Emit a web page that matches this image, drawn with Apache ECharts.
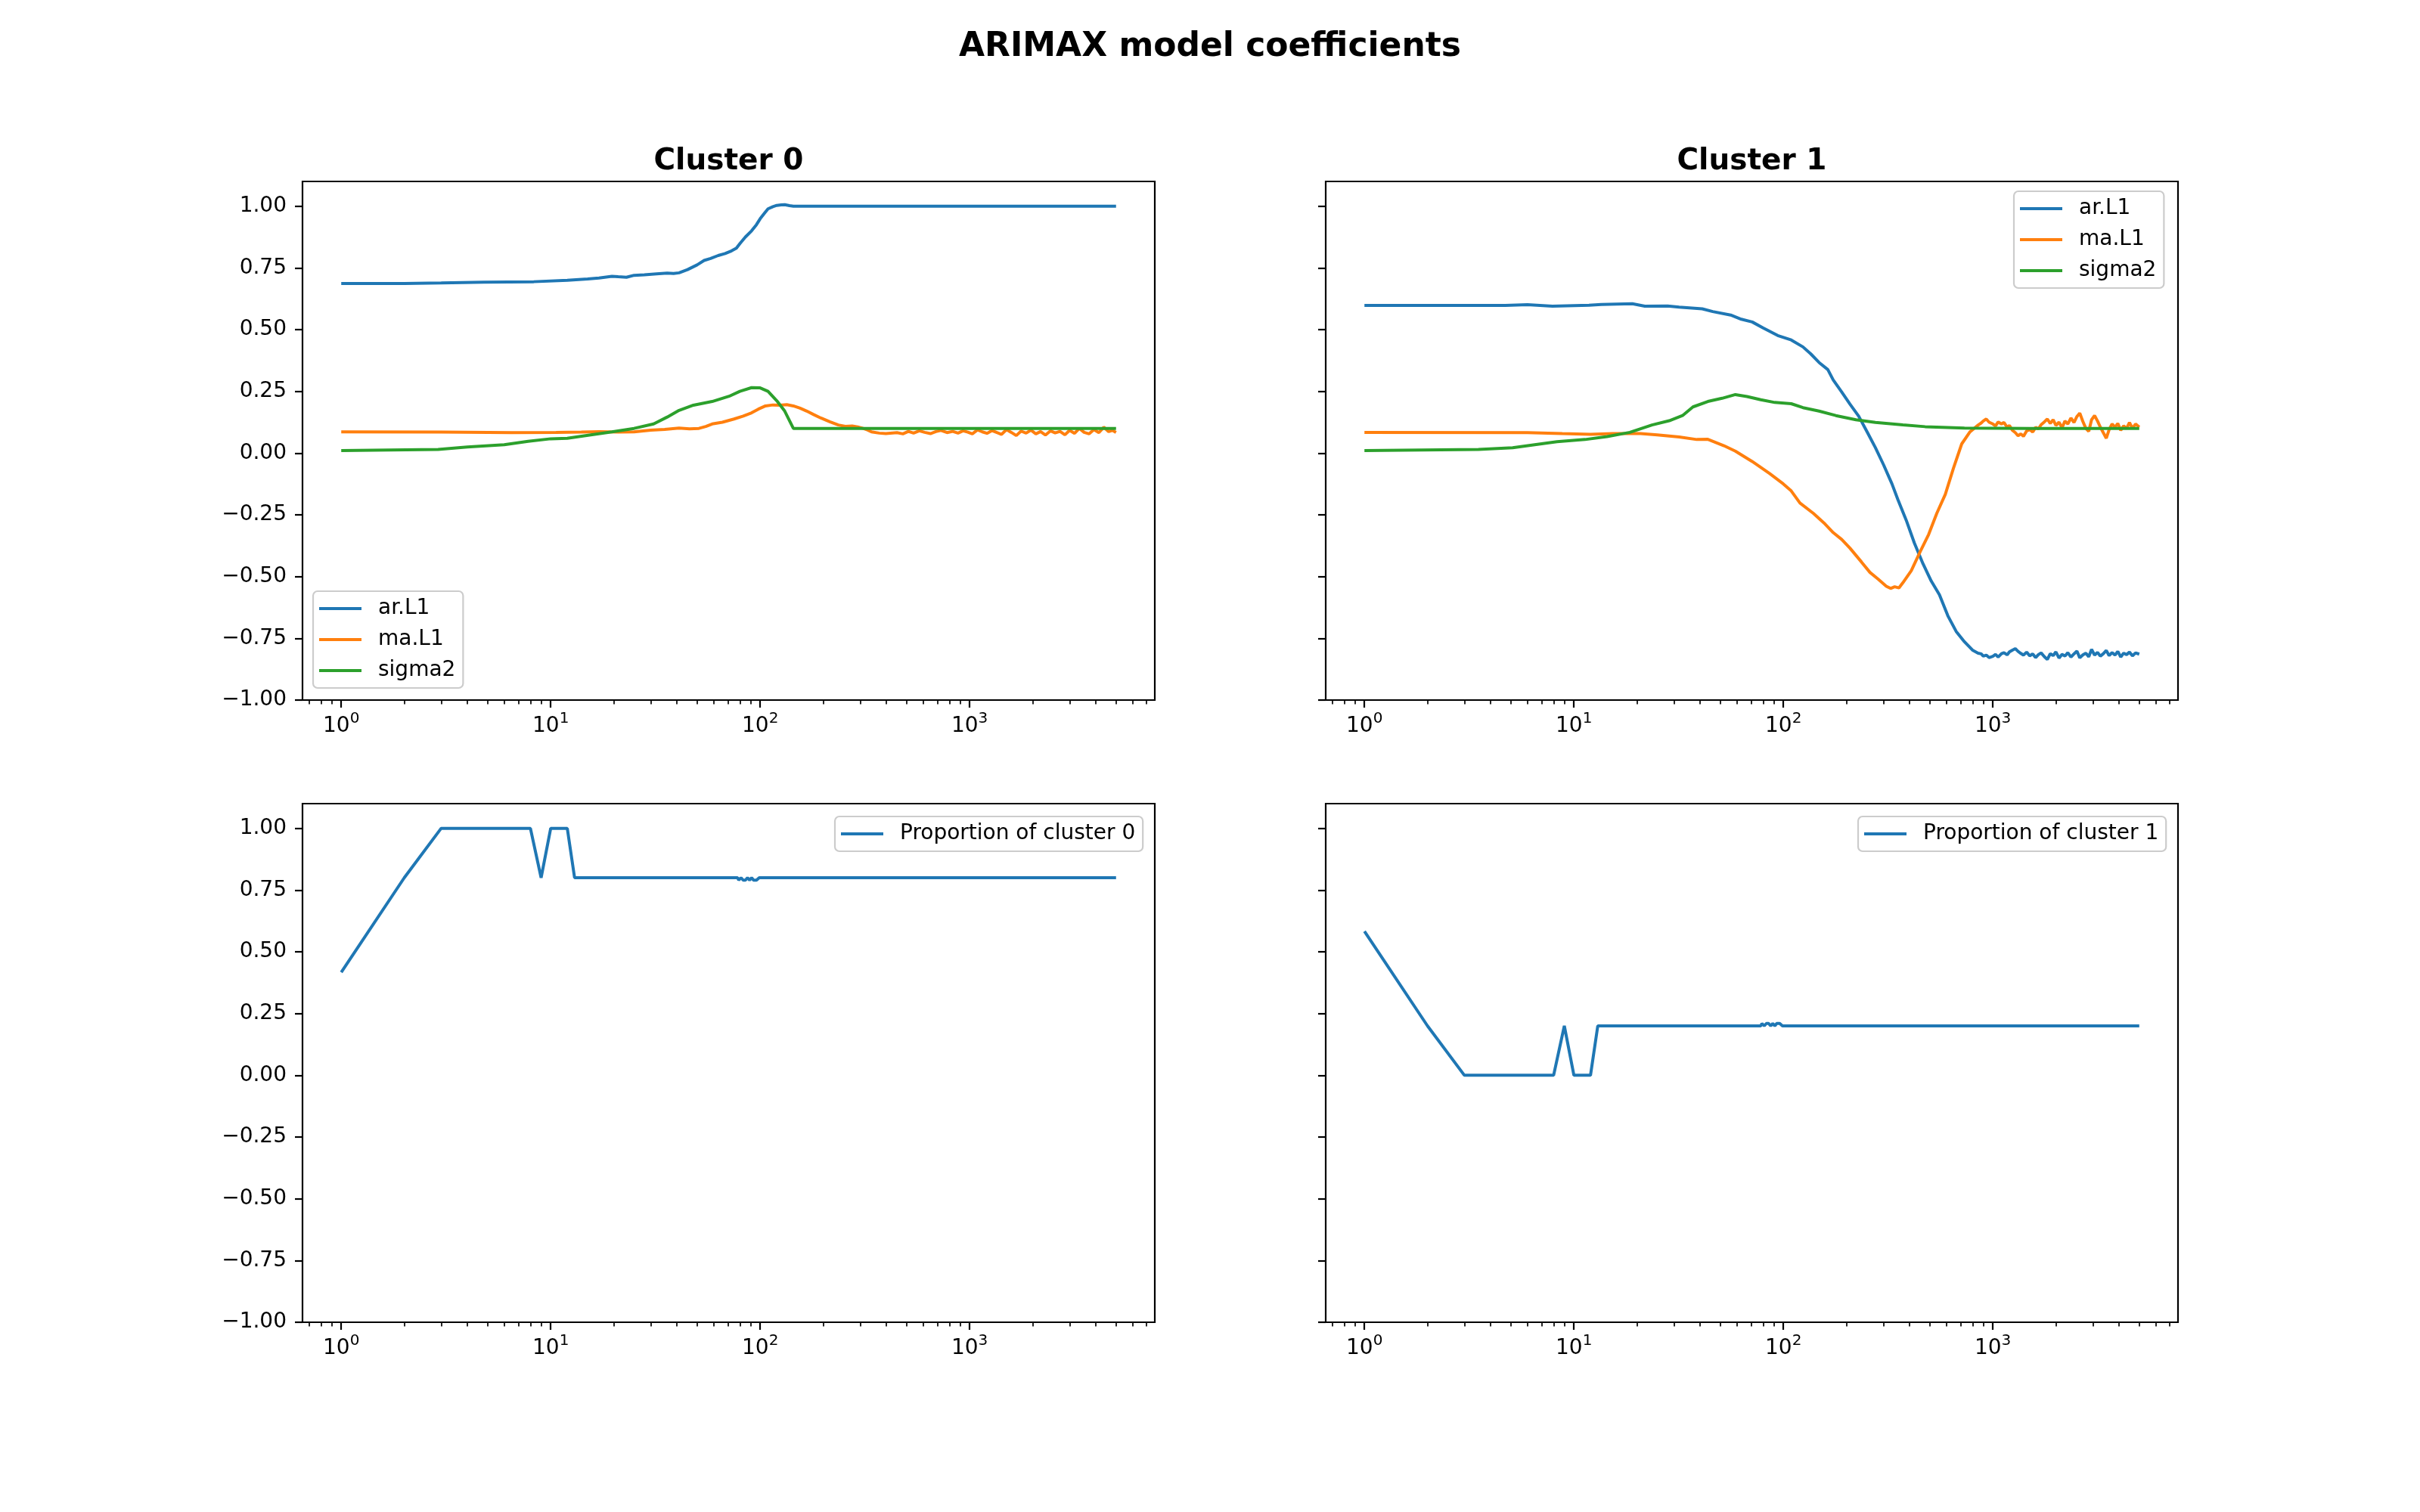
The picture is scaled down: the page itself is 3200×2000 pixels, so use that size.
<!DOCTYPE html>
<html>
<head>
<meta charset="utf-8">
<script src="https://cdn.jsdelivr.net/npm/echarts@6/dist/echarts.min.js"></script>
<style>html,body{margin:0;padding:0;background:#fff;}#chart{width:3200px;height:2000px;}</style>
</head>
<body>
<div id="chart"></div>
<script>
// ---------- data ----------
const SUPTITLE = 'ARIMAX model coefficients';
const PANEL_TITLES = ['Cluster 0', 'Cluster 1'];
const COEF_NAMES = ['ar.L1', 'ma.L1', 'sigma2'];
const PROP_NAMES = ['Proportion of cluster 0', 'Proportion of cluster 1'];
const X_MAJOR = [1, 10, 100, 1000];
const X_MINOR = [0.7, 0.8, 0.9, 2, 3, 4, 5, 6, 7, 8, 9, 20, 30, 40, 50, 60, 70, 80, 90,
  200, 300, 400, 500, 600, 700, 800, 900, 2000, 3000, 4000, 5000, 6000, 7000];
const Y_TICKS = [-1, -0.75, -0.5, -0.25, 0, 0.25, 0.5, 0.75, 1];

// Cluster 0
const c0ArX = [1, 2, 3, 4.8, 8.3, 12, 15, 17, 19.6, 21, 23, 25, 28, 32, 36, 38.6, 41, 45, 50, 54, 58, 63, 68, 73, 77, 80, 85, 91, 96, 100, 105, 109, 115, 120, 126, 131, 138, 144, 200, 500, 1000, 2000, 5000];
const c0ArY = [0.687, 0.687, 0.689, 0.692, 0.694, 0.70, 0.705, 0.709, 0.716, 0.714, 0.712, 0.72, 0.722, 0.726, 0.729, 0.727, 0.73, 0.743, 0.762, 0.78, 0.788, 0.80, 0.808, 0.819, 0.83, 0.848, 0.875, 0.90, 0.925, 0.949, 0.972, 0.989, 0.998, 1.003, 1.005, 1.006, 1.002, 1.0, 1.0, 1.0, 1.0, 1.0, 1.0];

const c0MaX = [1, 3, 6.5, 10.6, 14, 17, 21, 25, 30, 35, 41, 46, 51, 55, 59, 66, 75, 83, 91, 98, 106, 115, 124, 134, 144, 155, 167, 180, 195, 215, 236, 255, 275, 292, 310, 325, 340, 370, 398,
  450, 480, 510, 540, 575, 610, 650, 690, 730, 780, 830, 880, 930, 980, 1030, 1090, 1150, 1210, 1280, 1350, 1420, 1500, 1580, 1670, 1760, 1860, 1960, 2070, 2180, 2300, 2430, 2560, 2700, 2850, 3000, 3170, 3340, 3520, 3720, 3920, 4140, 4370, 4610, 4800, 5000];
const c0MaY = [0.086, 0.085, 0.083, 0.084, 0.085, 0.087, 0.085, 0.086, 0.093, 0.096, 0.101, 0.098, 0.10, 0.108, 0.118, 0.125, 0.138, 0.15, 0.163, 0.178, 0.191, 0.195, 0.194, 0.196, 0.191, 0.182, 0.17, 0.156, 0.142, 0.127, 0.114, 0.108, 0.11, 0.106, 0.10, 0.094, 0.086, 0.081, 0.079,
  0.083, 0.078, 0.088, 0.081, 0.09, 0.084, 0.079, 0.087, 0.092, 0.083, 0.088, 0.081, 0.09, 0.085, 0.078, 0.094, 0.086, 0.08, 0.091, 0.083, 0.076, 0.095, 0.084, 0.071, 0.089, 0.081, 0.093, 0.078, 0.087, 0.073, 0.09, 0.082, 0.088, 0.074, 0.092, 0.08, 0.1, 0.084, 0.078, 0.095, 0.083, 0.105, 0.087, 0.092, 0.084];

const c0SigX = [1, 2.9, 4, 6, 7.8, 10, 12, 15.3, 19.6, 25, 31, 36, 41, 48, 59, 71, 80, 91, 100, 109, 120, 131, 144, 300, 1000, 5000];
const c0SigY = [0.01, 0.015, 0.025, 0.034, 0.048, 0.058, 0.06, 0.073, 0.086, 0.10, 0.118, 0.146, 0.173, 0.194, 0.209, 0.23, 0.25, 0.265, 0.264, 0.25, 0.212, 0.17, 0.10, 0.10, 0.10, 0.10];

// Cluster 1
const c1ArX = [1, 4.7, 6, 7.9, 11.8, 13.5, 19, 21.8, 28, 31.8, 41, 46, 56, 63, 71, 80, 94, 109, 124, 135, 148, 163, 173, 190, 208, 229, 251, 275, 301, 330, 352, 386, 422, 464, 508, 556, 610, 668, 732, 803, 850,
  880, 900, 930, 960, 1000, 1030, 1060, 1100, 1130, 1170, 1200, 1240, 1280, 1320, 1360, 1400, 1450, 1500, 1550, 1600, 1650, 1700, 1760, 1820, 1880, 1940, 2000, 2070, 2140, 2210, 2280, 2360, 2440, 2520, 2600, 2690, 2780, 2870, 2960, 3060, 3160, 3260, 3370, 3480, 3590, 3710, 3830, 3950, 4080, 4210, 4350, 4490, 4640, 4800, 5000];
const c1ArY = [0.598, 0.598, 0.601, 0.595, 0.599, 0.602, 0.605, 0.595, 0.596, 0.591, 0.584, 0.573, 0.559, 0.542, 0.531, 0.507, 0.476, 0.458, 0.43, 0.402, 0.367, 0.338, 0.296, 0.247, 0.198, 0.149, 0.086, 0.022, -0.048, -0.125, -0.188, -0.272, -0.364, -0.448, -0.518, -0.574, -0.659, -0.722, -0.764, -0.799, -0.81,
  -0.813, -0.822, -0.818, -0.828, -0.823, -0.815, -0.826, -0.812, -0.808, -0.817, -0.805, -0.798, -0.792, -0.803, -0.811, -0.818, -0.806, -0.821, -0.813, -0.828, -0.816, -0.809, -0.824, -0.836, -0.812, -0.82, -0.805, -0.83, -0.815, -0.822, -0.808, -0.826, -0.813, -0.802, -0.829, -0.817, -0.81, -0.825, -0.795, -0.818, -0.807, -0.822, -0.812, -0.799, -0.82, -0.808, -0.818, -0.803, -0.826, -0.81, -0.816, -0.806, -0.821, -0.809, -0.814];

const c1MaX = [1, 6, 8.8, 12, 15.3, 20.8, 25, 31.8, 38.6, 43.6, 52, 59, 71, 86, 100, 109, 120, 139, 158, 173, 190, 208, 236, 259, 284, 310, 325, 340, 356, 372, 408, 450, 494, 540, 593, 648, 710, 778, 852,
  880, 900, 930, 960, 1000, 1030, 1060, 1100, 1130, 1170, 1200, 1240, 1280, 1320, 1360, 1400, 1450, 1500, 1550, 1600, 1650, 1700, 1760, 1820, 1880, 1940, 2000, 2070, 2140, 2210, 2280, 2360, 2440, 2520, 2600, 2690, 2780, 2870, 2960, 3060, 3160, 3260, 3370, 3480, 3590, 3710, 3830, 3950, 4080, 4210, 4350, 4490, 4640, 4800, 5000];
const c1MaY = [0.084, 0.083, 0.079, 0.076, 0.079, 0.079, 0.074, 0.065, 0.055, 0.056, 0.03, 0.008, -0.034, -0.083, -0.125, -0.153, -0.202, -0.244, -0.287, -0.322, -0.35, -0.385, -0.441, -0.483, -0.511, -0.539, -0.548, -0.541, -0.546, -0.525, -0.476, -0.399, -0.329, -0.244, -0.167, -0.062, 0.037, 0.086, 0.114,
  0.122, 0.13, 0.138, 0.125, 0.118, 0.11, 0.126, 0.118, 0.124, 0.105, 0.112, 0.092, 0.083, 0.07, 0.078, 0.068, 0.09, 0.095, 0.085, 0.104, 0.098, 0.115, 0.126, 0.138, 0.12, 0.135, 0.112, 0.125, 0.103, 0.13, 0.118, 0.142, 0.124, 0.148, 0.162, 0.128, 0.1, 0.088, 0.135, 0.152, 0.13, 0.105, 0.082, 0.06, 0.095, 0.118, 0.105, 0.12, 0.092, 0.11, 0.1, 0.124, 0.1, 0.118, 0.105];

const c1SigX = [1, 3.5, 5.1, 6.5, 8.3, 11.3, 14.4, 18.5, 23.6, 28.5, 33, 37, 43.6, 51, 59, 67, 78, 91, 109, 124, 148, 178, 222, 275, 372, 475, 732, 1500, 5000];
const c1SigY = [0.01, 0.015, 0.022, 0.034, 0.046, 0.055, 0.067, 0.084, 0.114, 0.131, 0.152, 0.187, 0.209, 0.222, 0.237, 0.229, 0.216, 0.205, 0.2, 0.184, 0.17, 0.152, 0.135, 0.124, 0.114, 0.107, 0.101, 0.1, 0.1];

// Proportions
const propX = [1, 2, 3, 8, 9, 10, 12, 13, 78, 79, 81, 83, 85, 87, 89, 91, 93, 96, 99, 101, 5000];
const prop0Y = [0.4167, 0.8, 1, 1, 0.8, 1, 1, 0.8, 0.8, 0.79, 0.8, 0.79, 0.79, 0.8, 0.79, 0.8, 0.79, 0.79, 0.8, 0.8, 0.8];
const prop1Y = [0.5833, 0.2, 0, 0, 0.2, 0, 0, 0.2, 0.2, 0.21, 0.2, 0.21, 0.21, 0.2, 0.21, 0.2, 0.21, 0.21, 0.2, 0.2, 0.2];

// ---------- chart ----------
const COLORS = ['#1f77b4', '#ff7f0e', '#2ca02c'];
const FONT = 'DejaVu Sans';
const zip = (xs, ys) => xs.map((x, i) => [x, ys[i]]);

const GRIDS = [
  {left: 400, top: 240, width: 1127, height: 686},
  {left: 1753, top: 240, width: 1127, height: 686},
  {left: 400, top: 1063, width: 1127, height: 686},
  {left: 1753, top: 1063, width: 1127, height: 686}
];
const XMIN = Math.pow(10, -0.18495), XMAX = Math.pow(10, 3.88392);

const grid = GRIDS.map(g => Object.assign({show: true, borderColor: '#000', borderWidth: 2.2, backgroundColor: 'transparent'}, g));

const xAxis = [];
for (let i = 0; i < 4; i++) {
  xAxis.push({
    type: 'log', logBase: 10, gridIndex: i, min: XMIN, max: XMAX, position: 'bottom',
    axisLine: {show: false, onZero: false}, splitLine: {show: false},
    axisTick: {show: true, length: 10, lineStyle: {color: '#000', width: 2.2}, customValues: X_MAJOR},
    axisLabel: {
      show: true, margin: 15, customValues: X_MAJOR,
      formatter: v => '{a|10}{b|' + Math.round(Math.log10(v)) + '}',
      rich: {
        a: {fontSize: 28, fontFamily: FONT, color: '#000', lineHeight: 34, verticalAlign: 'bottom'},
        b: {fontSize: 20, fontFamily: FONT, color: '#000', lineHeight: 20, verticalAlign: 'top'}
      }
    }
  });
}
for (let i = 0; i < 4; i++) {
  xAxis.push({
    type: 'log', logBase: 10, gridIndex: i, min: XMIN, max: XMAX, position: 'bottom',
    axisLine: {show: false, onZero: false}, splitLine: {show: false}, axisLabel: {show: false},
    axisTick: {show: true, length: 5.6, lineStyle: {color: '#000', width: 1.7}, customValues: X_MINOR}
  });
}
const yAxis = [];
for (let i = 0; i < 4; i++) {
  yAxis.push({
    type: 'value', gridIndex: i, min: -1, max: 1.1, position: 'left',
    axisLine: {show: false, onZero: false}, splitLine: {show: false},
    axisTick: {show: true, length: 10, lineStyle: {color: '#000', width: 2.2}, customValues: Y_TICKS},
    axisLabel: {
      show: i % 2 === 0, margin: 21, customValues: Y_TICKS,
      fontSize: 28, fontFamily: FONT, color: '#000',
      formatter: v => (v < 0 ? '\u2212' : '') + Math.abs(v).toFixed(2)
    }
  });
}

const lineSeries = (name, idx, data, color) => ({
  name, type: 'line', xAxisIndex: idx, yAxisIndex: idx, data,
  showSymbol: false, symbol: 'none', color, lineStyle: {width: 4, color},
  emphasis: {disabled: true}, z: 3
});

const series = [
  lineSeries('ar.L1', 0, zip(c0ArX, c0ArY), COLORS[0]),
  lineSeries('ma.L1', 0, zip(c0MaX, c0MaY), COLORS[1]),
  lineSeries('sigma2', 0, zip(c0SigX, c0SigY), COLORS[2]),
  lineSeries('ar.L1', 1, zip(c1ArX, c1ArY), COLORS[0]),
  lineSeries('ma.L1', 1, zip(c1MaX, c1MaY), COLORS[1]),
  lineSeries('sigma2', 1, zip(c1SigX, c1SigY), COLORS[2]),
  lineSeries(PROP_NAMES[0], 2, zip(propX, prop0Y), COLORS[0]),
  lineSeries(PROP_NAMES[1], 3, zip(propX, prop1Y), COLORS[0])
];

const legendBase = {
  orient: 'vertical', icon: 'rect', itemWidth: 56, itemHeight: 4, itemGap: 13,
  padding: [9, 10, 9, 8], backgroundColor: 'rgba(255,255,255,0.8)',
  borderColor: '#cccccc', borderWidth: 2.2, borderRadius: 6, selectedMode: false,
  textStyle: {fontSize: 28, fontFamily: FONT, color: '#000', lineHeight: 28, padding: [0, 0, 0, 17]}
};
const legend = [
  Object.assign({}, legendBase, {left: 414, top: 782, data: COEF_NAMES}),
  Object.assign({}, legendBase, {left: 2663, top: 253, data: COEF_NAMES}),
  Object.assign({}, legendBase, {left: 1104, top: 1080, data: [PROP_NAMES[0]]}),
  Object.assign({}, legendBase, {left: 2457, top: 1080, data: [PROP_NAMES[1]]})
];

const graphic = [
  {type: 'text', x: 1600, y: 63, style: {text: SUPTITLE, font: 'bold 44px "DejaVu Sans"', fill: '#000', align: 'center', verticalAlign: 'middle'}},
  {type: 'text', x: 963.5, y: 214, style: {text: PANEL_TITLES[0], font: 'bold 39px "DejaVu Sans"', fill: '#000', align: 'center', verticalAlign: 'middle'}},
  {type: 'text', x: 2316.5, y: 214, style: {text: PANEL_TITLES[1], font: 'bold 39px "DejaVu Sans"', fill: '#000', align: 'center', verticalAlign: 'middle'}}
];

const chart = echarts.init(document.getElementById('chart'), null, {renderer: 'canvas'});
chart.setOption({animation: false, backgroundColor: '#fff', grid, xAxis, yAxis, series, legend, graphic});
</script>
</body>
</html>
